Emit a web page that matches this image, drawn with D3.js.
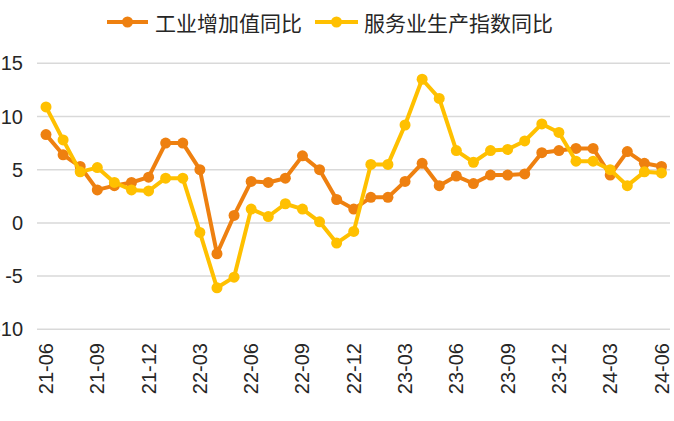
<!DOCTYPE html>
<html><head><meta charset="utf-8">
<script src="https://cdn.jsdelivr.net/npm/d3@7"></script>
<style>html,body{margin:0;padding:0;background:#fff;overflow:hidden}</style>
</head><body>
<svg id="c" width="674" height="421"></svg>
<script>
const months = ["21-06","21-07","21-08","21-09","21-10","21-11","21-12",
"22-01","22-02","22-03","22-04","22-05","22-06","22-07","22-08","22-09","22-10","22-11","22-12",
"23-01","23-02","23-03","23-04","23-05","23-06","23-07","23-08","23-09","23-10","23-11","23-12",
"24-01","24-02","24-03","24-04","24-05","24-06"];
const industry = [8.3,6.4,5.3,3.1,3.5,3.8,4.3,7.5,7.5,5.0,-2.9,0.7,3.9,3.8,4.2,6.3,5.0,2.2,1.3,2.4,2.4,3.9,5.6,3.5,4.4,3.7,4.5,4.5,4.6,6.6,6.8,7.0,7.0,4.5,6.7,5.6,5.3];
const services = [10.9,7.8,4.8,5.2,3.8,3.1,3.0,4.2,4.2,-0.9,-6.1,-5.1,1.3,0.6,1.8,1.3,0.1,-1.9,-0.8,5.5,5.5,9.2,13.5,11.7,6.8,5.7,6.8,6.9,7.7,9.3,8.5,5.8,5.8,5.0,3.5,4.8,4.7];
const seriesNames = ["工业增加值同比","服务业生产指数同比"];
const colors = ["#EE8010","#FFC000"];
const yTicks = [15,10,5,0,-5,-10];
const xTicks = months.filter((m,i)=>i%3===0);

const svg = d3.select("#c");
const x = d3.scalePoint().domain(months).range([46,661.5]);
const y = d3.scaleLinear().domain([-10,15]).range([329.3,63.3]);

// gridlines
svg.append("g").selectAll("line").data(yTicks).join("line")
  .attr("x1",37).attr("x2",670)
  .attr("y1",d=>y(d)).attr("y2",d=>y(d))
  .attr("stroke","#d9d9d9").attr("stroke-width",1.5);

// y labels
svg.append("g").selectAll("text").data(yTicks).join("text")
  .attr("x",23).attr("y",d=>y(d)).attr("text-anchor","end")
  .attr("dominant-baseline","central")
  .attr("font-family","'Liberation Sans',Arial,sans-serif").attr("font-size",20)
  .attr("fill","#262626").text(d=>d);

// x labels
svg.append("g").selectAll("text").data(xTicks).join("text")
  .attr("transform",d=>`translate(${x(d)},343) rotate(-90)`)
  .attr("text-anchor","end").attr("dominant-baseline","central")
  .attr("font-family","'Liberation Sans',Arial,sans-serif").attr("font-size",20)
  .attr("fill","#262626").text(d=>d);

const line = d3.line().x((d,i)=>x(months[i])).y(d=>y(d));
[industry,services].forEach((vals,k)=>{
  const g = svg.append("g");
  g.append("path").datum(vals).attr("d",line).attr("fill","none")
    .attr("stroke",colors[k]).attr("stroke-width",4).attr("stroke-linejoin","round");
  g.selectAll("circle").data(vals).join("circle")
    .attr("cx",(d,i)=>x(months[i])).attr("cy",d=>y(d)).attr("r",5.5)
    .attr("fill",colors[k]);
});

// legend
const leg = [{x0:107,x1:148,tx:155},{x0:315,x1:358,tx:364}];
leg.forEach((l,k)=>{
  const g = svg.append("g");
  g.append("line").attr("x1",l.x0).attr("x2",l.x1).attr("y1",22).attr("y2",22)
    .attr("stroke",colors[k]).attr("stroke-width",4);
  g.append("circle").attr("cx",(l.x0+l.x1)/2).attr("cy",22).attr("r",5.5).attr("fill",colors[k]);
  g.append("text").attr("x",l.tx).attr("y",22).attr("dominant-baseline","central")
    .attr("font-family","'Noto Sans CJK SC',sans-serif").attr("font-size",21)
    .attr("fill","#262626").text(seriesNames[k]);
});
</script>
</body></html>
